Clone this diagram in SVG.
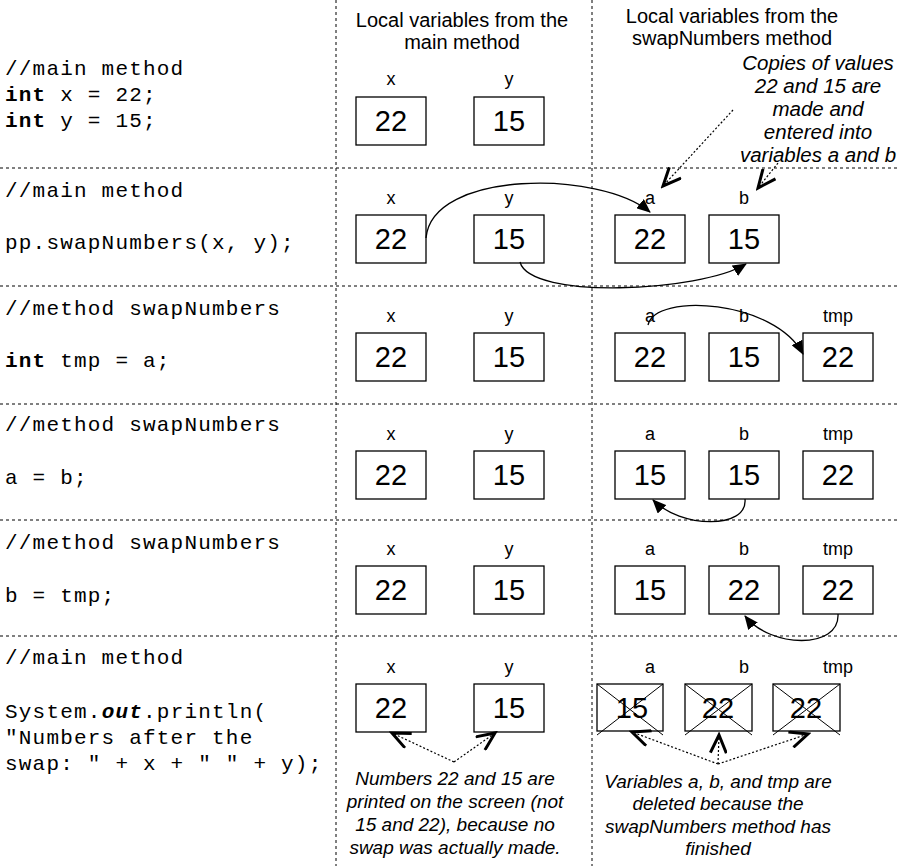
<svg xmlns="http://www.w3.org/2000/svg" width="899" height="866" viewBox="0 0 899 866">
<style>
.sep{stroke:#000;stroke-width:1;stroke-dasharray:3,3;fill:none}
.box{fill:#fff;stroke:#000;stroke-width:1.3}
.val{font-family:"Liberation Sans",Arial,sans-serif;font-size:29px;text-anchor:middle}
.lab{font-family:"Liberation Sans",Arial,sans-serif;font-size:18px;text-anchor:middle}
.code{font-family:"Liberation Mono","Courier New",monospace;font-size:21px;letter-spacing:1.2px}
.hdr{font-family:"Liberation Sans",Arial,sans-serif;font-size:20px;text-anchor:middle}
.note{font-family:"Liberation Sans",Arial,sans-serif;font-size:19px;font-style:italic;text-anchor:middle}
.con{stroke:#000;stroke-width:1.3;fill:none;marker-end:url(#fa)}
.dot{stroke:#000;stroke-width:1.2;stroke-dasharray:2,2;fill:none;marker-end:url(#oa)}
.x{stroke:#000;stroke-width:1}
</style>
<defs>
<marker id="fa" markerWidth="14" markerHeight="12" refX="13" refY="6" orient="auto" markerUnits="userSpaceOnUse"><path d="M0,0 L14,6 L0,12 z"/></marker>
<marker id="oa" markerWidth="22" markerHeight="18" refX="19" refY="9" orient="auto" markerUnits="userSpaceOnUse"><path d="M1,1 L19,9 L1,17" fill="none" stroke="#000" stroke-width="3"/></marker>
</defs>
<rect width="899" height="866" fill="#fff"/>
<g id="grid">
<line class="sep" x1="336" y1="0" x2="336" y2="866"/>
<line class="sep" x1="592" y1="0" x2="592" y2="866"/>
<line class="sep" x1="0" y1="168" x2="899" y2="168"/>
<line class="sep" x1="0" y1="286" x2="899" y2="286"/>
<line class="sep" x1="0" y1="404" x2="899" y2="404"/>
<line class="sep" x1="0" y1="520" x2="899" y2="520"/>
<line class="sep" x1="0" y1="636" x2="899" y2="636"/>
</g>
<g id="headers">
<text class="hdr" x="462" y="27">Local variables from the</text>
<text class="hdr" x="462" y="49">main method</text>
<text class="hdr" x="732" y="23">Local variables from the</text>
<text class="hdr" x="732" y="45">swapNumbers method</text>
</g>
<g id="code">
<text class="code" x="5" y="75">//main method</text>
<text class="code" x="5" y="101"><tspan font-weight="bold">int</tspan> x = 22;</text>
<text class="code" x="5" y="127"><tspan font-weight="bold">int</tspan> y = 15;</text>
<text class="code" x="5" y="197">//main method</text>
<text class="code" x="5" y="249">pp.swapNumbers(x, y);</text>
<text class="code" x="5" y="315">//method swapNumbers</text>
<text class="code" x="5" y="367"><tspan font-weight="bold">int</tspan> tmp = a;</text>
<text class="code" x="5" y="431">//method swapNumbers</text>
<text class="code" x="5" y="484">a = b;</text>
<text class="code" x="5" y="549">//method swapNumbers</text>
<text class="code" x="5" y="602">b = tmp;</text>
<text class="code" x="5" y="664">//main method</text>
<text class="code" x="5" y="718">System.<tspan font-weight="bold" font-style="italic">out</tspan>.println(</text>
<text class="code" x="5" y="744">"Numbers after the</text>
<text class="code" x="5" y="770">swap: " + x + " " + y);</text>
</g>
<g id="row1">
<text class="lab" x="391" y="85">x</text><text class="lab" x="509" y="85">y</text>
<rect class="box" x="356" y="97" width="70" height="48"/><text class="val" x="391" y="131">22</text>
<rect class="box" x="474" y="97" width="70" height="48"/><text class="val" x="509" y="131">15</text>
</g>
<g id="row2">
<text class="lab" x="391" y="204">x</text><text class="lab" x="509" y="204">y</text><text class="lab" x="650" y="204">a</text><text class="lab" x="744" y="204">b</text>
<rect class="box" x="356" y="215" width="70" height="48"/><text class="val" x="391" y="249">22</text>
<rect class="box" x="474" y="215" width="70" height="48"/><text class="val" x="509" y="249">15</text>
<rect class="box" x="615" y="215" width="70" height="48"/><text class="val" x="650" y="249">22</text>
<rect class="box" x="709" y="215" width="70" height="48"/><text class="val" x="744" y="249">15</text>
</g>
<g id="row3">
<text class="lab" x="391" y="322">x</text><text class="lab" x="509" y="322">y</text><text class="lab" x="650" y="322">a</text><text class="lab" x="744" y="322">b</text><text class="lab" x="838" y="322">tmp</text>
<rect class="box" x="356" y="333" width="70" height="48"/><text class="val" x="391" y="367">22</text>
<rect class="box" x="474" y="333" width="70" height="48"/><text class="val" x="509" y="367">15</text>
<rect class="box" x="615" y="333" width="70" height="48"/><text class="val" x="650" y="367">22</text>
<rect class="box" x="709" y="333" width="70" height="48"/><text class="val" x="744" y="367">15</text>
<rect class="box" x="803" y="333" width="70" height="48"/><text class="val" x="838" y="367">22</text>
</g>
<g id="row4">
<text class="lab" x="391" y="440">x</text><text class="lab" x="509" y="440">y</text><text class="lab" x="650" y="440">a</text><text class="lab" x="744" y="440">b</text><text class="lab" x="838" y="440">tmp</text>
<rect class="box" x="356" y="451" width="70" height="48"/><text class="val" x="391" y="485">22</text>
<rect class="box" x="474" y="451" width="70" height="48"/><text class="val" x="509" y="485">15</text>
<rect class="box" x="615" y="451" width="70" height="48"/><text class="val" x="650" y="485">15</text>
<rect class="box" x="709" y="451" width="70" height="48"/><text class="val" x="744" y="485">15</text>
<rect class="box" x="803" y="451" width="70" height="48"/><text class="val" x="838" y="485">22</text>
</g>
<g id="row5">
<text class="lab" x="391" y="555">x</text><text class="lab" x="509" y="555">y</text><text class="lab" x="650" y="555">a</text><text class="lab" x="744" y="555">b</text><text class="lab" x="838" y="555">tmp</text>
<rect class="box" x="356" y="566" width="70" height="48"/><text class="val" x="391" y="600">22</text>
<rect class="box" x="474" y="566" width="70" height="48"/><text class="val" x="509" y="600">15</text>
<rect class="box" x="615" y="566" width="70" height="48"/><text class="val" x="650" y="600">15</text>
<rect class="box" x="709" y="566" width="70" height="48"/><text class="val" x="744" y="600">22</text>
<rect class="box" x="803" y="566" width="70" height="48"/><text class="val" x="838" y="600">22</text>
</g>
<g id="row6">
<text class="lab" x="391" y="673">x</text><text class="lab" x="509" y="673">y</text><text class="lab" x="650" y="673">a</text><text class="lab" x="744" y="673">b</text><text class="lab" x="838" y="673">tmp</text>
<rect class="box" x="356" y="684" width="70" height="48"/><text class="val" x="391" y="718">22</text>
<rect class="box" x="474" y="684" width="70" height="48"/><text class="val" x="509" y="718">15</text>
<rect class="box" x="597" y="684" width="66" height="47"/><text class="val" x="632" y="718">15</text>
<line class="x" x1="597" y1="684" x2="663" y2="735"/><line class="x" x1="597" y1="735" x2="663" y2="684"/>
<rect class="box" x="685" y="684" width="67" height="47"/><text class="val" x="718" y="718">22</text>
<line class="x" x1="685" y1="684" x2="752" y2="735"/><line class="x" x1="685" y1="735" x2="752" y2="684"/>
<rect class="box" x="773" y="684" width="67" height="47"/><text class="val" x="806" y="718">22</text>
<line class="x" x1="773" y1="684" x2="840" y2="735"/><line class="x" x1="773" y1="735" x2="840" y2="684"/>
</g>
<g id="notes">
<text class="note" x="818" y="70" style="font-size:20.5px">Copies of values</text>
<text class="note" x="818" y="93" style="font-size:20.5px">22 and 15 are</text>
<text class="note" x="818" y="116" style="font-size:20.5px">made and</text>
<text class="note" x="818" y="139" style="font-size:20.5px">entered into</text>
<text class="note" x="818" y="162" style="font-size:20.5px">variables a and b</text>
<text class="note" x="455" y="785">Numbers 22 and 15 are</text>
<text class="note" x="455" y="808">printed on the screen (not</text>
<text class="note" x="455" y="831">15 and 22), because no</text>
<text class="note" x="455" y="854">swap was actually made.</text>
<text class="note" x="718" y="788">Variables a, b, and tmp are</text>
<text class="note" x="718" y="810">deleted because the</text>
<text class="note" x="718" y="833">swapNumbers method has</text>
<text class="note" x="718" y="855">finished</text>
</g>
<g id="connectors">
<path class="con" d="M426,238 C432,170 600,170 650,212"/>
<path class="con" d="M520,262 C530,300 700,292 746,264"/>
<path class="con" d="M648,325 C655,292 775,300 803,354"/>
<path class="con" d="M745,499 C748,530 680,528 653,500"/>
<path class="con" d="M838,614 C840,650 770,648 745,616"/>
<path class="dot" d="M733,110 L663,186"/>
<path class="dot" d="M778,163 L758,188"/>
<path class="dot" d="M454,762 L392,733"/>
<path class="dot" d="M454,762 L495,733"/>
<path class="dot" d="M718,764 L632,732"/>
<path class="dot" d="M718,764 L719,735"/>
<path class="dot" d="M718,764 L808,734"/>
</g>
</svg>
